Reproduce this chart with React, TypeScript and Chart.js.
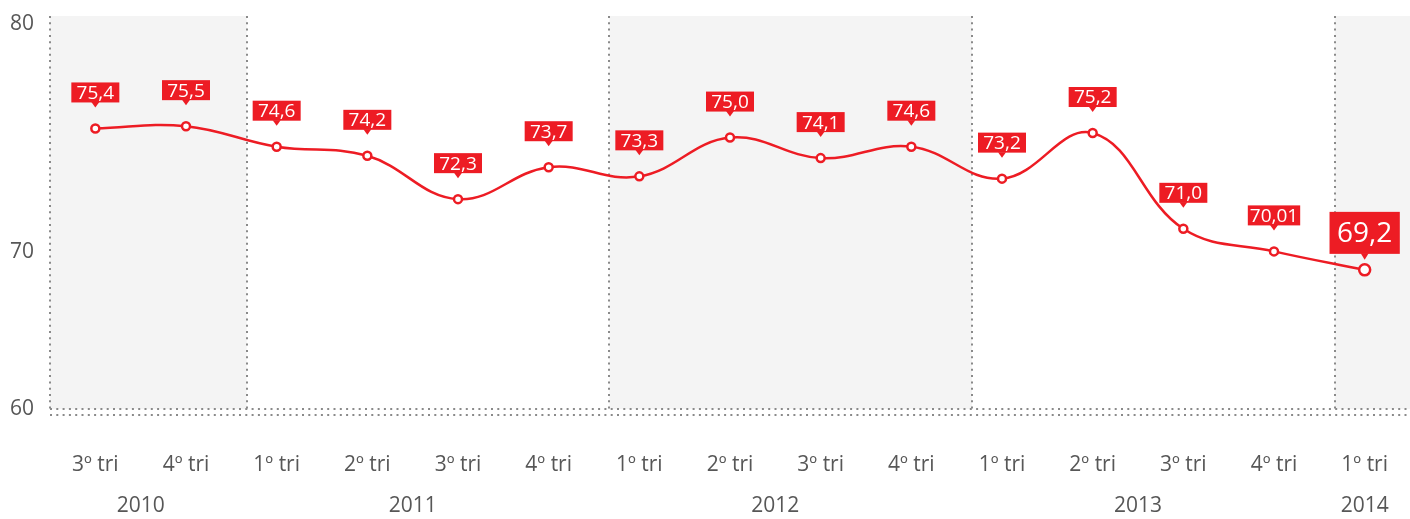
import React, { useEffect, useRef } from 'react';
import { Chart, registerables } from 'chart.js';

Chart.register(...registerables);

// ---- data ----
const quarterLabels = ['3º tri', '4º tri', '1º tri', '2º tri', '3º tri', '4º tri', '1º tri', '2º tri', '3º tri', '4º tri', '1º tri', '2º tri', '3º tri', '4º tri', '1º tri'];
const values = [75.4, 75.5, 74.6, 74.2, 72.3, 73.7, 73.3, 75.0, 74.1, 74.6, 73.2, 75.2, 71.0, 70.01, 69.2];
const valueLabels = ['75,4', '75,5', '74,6', '74,2', '72,3', '73,7', '73,3', '75,0', '74,1', '74,6', '73,2', '75,2', '71,0', '70,01', '69,2'];
const years = ['2010', '2011', '2012', '2013', '2014'];
const quartersPerYear = [2, 4, 4, 4, 1];
const yTickLabels = ['60', '70', '80'];
const yTickValues = [70, 80];

// ---- style ----
const Y_MIN = 63.1;
const Y_MAX = 80.33;
const RED = '#ed1c24';
const TEXT = '#575757';
const DOT = '#8a8a8a';
const BAND = '#f4f4f4';
const FONT = "'Open Sans', sans-serif";
const BOUNDARY_SHIFT = 0.67;

function dotted(ctx: CanvasRenderingContext2D, x1: number, y1: number, x2: number, y2: number) {
  ctx.beginPath();
  ctx.moveTo(x1, y1);
  ctx.lineTo(x2, y2);
  ctx.stroke();
}

const decorPlugin = {
  id: 'decor',
  beforeDraw(chart: any) {
    const { ctx, chartArea: a, scales } = chart;
    const x = scales.x;
    const bounds: number[] = [a.left];
    let idx = 0;
    quartersPerYear.forEach((n, i) => {
      idx += n;
      bounds.push(i === quartersPerYear.length - 1 ? a.right : x.getPixelForValue(idx - 1 + BOUNDARY_SHIFT));
    });
    ctx.save();
    ctx.fillStyle = BAND;
    for (let i = 0; i < years.length; i += 2) {
      ctx.fillRect(bounds[i], a.top, bounds[i + 1] - bounds[i], a.bottom - a.top);
    }
    ctx.strokeStyle = DOT;
    ctx.lineWidth = 2;
    ctx.setLineDash([2, 4.3]);
    dotted(ctx, a.left, a.top, a.left, a.bottom);
    for (let i = 1; i < years.length; i++) {
      const bx = Math.round(bounds[i]);
      dotted(ctx, bx, a.top, bx, a.bottom);
    }
    dotted(ctx, a.left, a.bottom, a.right, a.bottom);
    dotted(ctx, a.left, a.bottom + 6, a.right, a.bottom + 6);
    ctx.setLineDash([]);
    // year labels
    ctx.fillStyle = TEXT;
    ctx.font = `21px ${FONT}`;
    ctx.textAlign = 'center';
    ctx.textBaseline = 'middle';
    let start = 0;
    years.forEach((yr, i) => {
      const n = quartersPerYear[i];
      const cx = (x.getPixelForValue(start) + x.getPixelForValue(start + n - 1)) / 2;
      ctx.fillText(yr, cx, a.bottom + 97);
      start += n;
    });
    ctx.restore();
  },
  afterDatasetsDraw(chart: any) {
    const { ctx } = chart;
    const meta = chart.getDatasetMeta(0);
    ctx.save();
    meta.data.forEach((pt: any, i: number) => {
      const big = i === values.length - 1;
      const fs = big ? 28 : 19;
      const h = big ? 42 : 20;
      const gap = big ? 16 : 26;
      const tipGap = big ? 10 : 21;
      ctx.font = `${fs}px ${FONT}`;
      const tw = ctx.measureText(valueLabels[i]).width;
      const w = big ? tw + 15 : Math.max(48, tw + 4);
      const bottom = pt.y - gap;
      ctx.fillStyle = RED;
      ctx.fillRect(pt.x - w / 2, bottom - h, w, h);
      ctx.beginPath();
      ctx.moveTo(pt.x - 4, bottom - 0.5);
      ctx.lineTo(pt.x + 4, bottom - 0.5);
      ctx.lineTo(pt.x, pt.y - tipGap);
      ctx.closePath();
      ctx.fill();
      ctx.fillStyle = '#ffffff';
      ctx.textAlign = 'center';
      ctx.textBaseline = 'middle';
      ctx.fillText(valueLabels[i], pt.x, bottom - h / 2 + 1);
    });
    ctx.restore();
  },
};

export default function App() {
  const canvasRef = useRef<HTMLCanvasElement>(null);

  useEffect(() => {
    if (!canvasRef.current) return;
    const last = values.length - 1;
    const chart = new Chart(canvasRef.current, {
      type: 'line',
      data: {
        labels: quarterLabels,
        datasets: [
          {
            data: values,
            borderColor: RED,
            borderWidth: 2.5,
            tension: 0.4,
            fill: false,
            clip: false as any,
            pointBackgroundColor: '#ffffff',
            pointBorderColor: RED,
            pointBorderWidth: 2.5,
            pointRadius: (c: any) => (c.dataIndex === last ? 5.5 : 4),
            pointHoverRadius: (c: any) => (c.dataIndex === last ? 5.5 : 4),
          },
        ],
      },
      options: {
        animation: false,
        responsive: true,
        maintainAspectRatio: false,
        layout: { autoPadding: false, padding: { left: 10, top: 16, right: 0, bottom: 41 } },
        plugins: { legend: { display: false }, tooltip: { enabled: false } },
        scales: {
          x: {
            offset: true,
            grid: { display: false, drawTicks: false },
            border: { display: false },
            ticks: {
              color: TEXT,
              font: { family: FONT, size: 21 },
              padding: 43.5,
              maxRotation: 0,
              autoSkip: false,
            },
            afterFit: (s: any) => {
              s.paddingLeft = 0;
              s.paddingRight = 0;
              s.height = 69;
            },
          },
          y: {
            min: Y_MIN,
            max: Y_MAX,
            grid: { display: false, drawTicks: false },
            border: { display: false },
            afterBuildTicks: (s: any) => {
              s.ticks = [{ value: Y_MIN }, ...yTickValues.map((v) => ({ value: v }))];
            },
            ticks: {
              color: TEXT,
              font: { family: FONT, size: 21 },
              padding: 16,
              callback: (_v: any, i: number) => yTickLabels[i],
            },
            afterFit: (s: any) => {
              s.paddingTop = 0;
              s.paddingBottom = 0;
              s.width = 40;
            },
          },
        },
      },
      plugins: [decorPlugin],
    });
    return () => chart.destroy();
  }, []);

  return (
    <div style={{ position: 'absolute', left: 0, top: 0, width: 1410, height: 519 }}>
      <canvas ref={canvasRef} />
    </div>
  );
}
